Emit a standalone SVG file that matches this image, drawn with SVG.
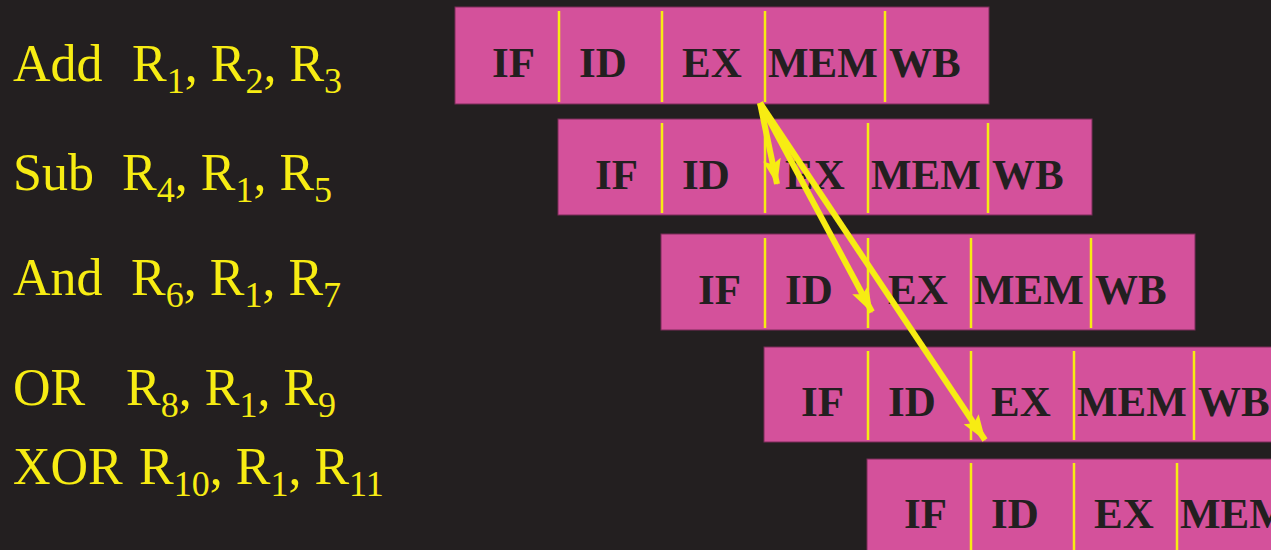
<svg xmlns="http://www.w3.org/2000/svg" width="1271" height="550" viewBox="0 0 1271 550">
<defs>
<style>
.bg{fill:#231F20}
.box{fill:#D4519B;stroke:#7a2c58;stroke-width:1}
.div{stroke:#F7EC13;stroke-width:2.5}
.st{font-family:"Liberation Serif","Times New Roman",serif;font-weight:bold;font-size:43px;fill:#231F20}
.ins{font-family:"Liberation Serif","Times New Roman",serif;font-size:52px;fill:#F7EC13}
.sub{font-size:36px}
.arr{stroke:#F7EC13;stroke-width:6;fill:none;marker-end:url(#ah)}
</style>
<marker id="ah" markerUnits="userSpaceOnUse" viewBox="0 0 26 18" refX="25" refY="9" markerWidth="26" markerHeight="18" orient="auto">
<path d="M0,0 L26,9 L0,18 L5,9 z" fill="#F7EC13"/>
</marker>
</defs>
<rect class="bg" x="0" y="0" width="1271" height="550"/>

<g id="instr1"><text class="ins" x="13" y="81">Add<tspan x="132">R</tspan><tspan class="sub" dy="12">1</tspan><tspan dy="-12">, R</tspan><tspan class="sub" dy="12">2</tspan><tspan dy="-12">, R</tspan><tspan class="sub" dy="12">3</tspan></text></g>
<g id="instr2"><text class="ins" x="13" y="190">Sub<tspan x="122">R</tspan><tspan class="sub" dy="12">4</tspan><tspan dy="-12">, R</tspan><tspan class="sub" dy="12">1</tspan><tspan dy="-12">, R</tspan><tspan class="sub" dy="12">5</tspan></text></g>
<g id="instr3"><text class="ins" x="13" y="295">And<tspan x="131">R</tspan><tspan class="sub" dy="12">6</tspan><tspan dy="-12">, R</tspan><tspan class="sub" dy="12">1</tspan><tspan dy="-12">, R</tspan><tspan class="sub" dy="12">7</tspan></text></g>
<g id="instr4"><text class="ins" x="13" y="405">OR<tspan x="126">R</tspan><tspan class="sub" dy="12">8</tspan><tspan dy="-12">, R</tspan><tspan class="sub" dy="12">1</tspan><tspan dy="-12">, R</tspan><tspan class="sub" dy="12">9</tspan></text></g>
<g id="instr5"><text class="ins" x="13" y="484">XOR<tspan x="139">R</tspan><tspan class="sub" dy="12">10</tspan><tspan dy="-12">, R</tspan><tspan class="sub" dy="12">1</tspan><tspan dy="-12">, R</tspan><tspan class="sub" dy="12">11</tspan></text></g>

<g id="row1">
<rect class="box" x="455" y="7" width="534" height="97"/>
<line class="div" x1="559" y1="11" x2="559" y2="102"/>
<line class="div" x1="662" y1="11" x2="662" y2="102"/>
<line class="div" x1="765" y1="11" x2="765" y2="102"/>
<line class="div" x1="885" y1="11" x2="885" y2="102"/>
<text class="st" x="492" y="77">IF</text><text class="st" x="579" y="77">ID</text><text class="st" x="682" y="77">EX</text><text class="st" x="768" y="77">MEM</text><text class="st" x="889" y="77">WB</text>
</g>
<g id="row2">
<rect class="box" x="558" y="119" width="534" height="96"/>
<line class="div" x1="662" y1="123" x2="662" y2="213"/>
<line class="div" x1="765" y1="123" x2="765" y2="213"/>
<line class="div" x1="868" y1="123" x2="868" y2="213"/>
<line class="div" x1="988" y1="123" x2="988" y2="213"/>
<text class="st" x="595" y="189">IF</text><text class="st" x="682" y="189">ID</text><text class="st" x="785" y="189">EX</text><text class="st" x="871" y="189">MEM</text><text class="st" x="992" y="189">WB</text>
</g>
<g id="row3">
<rect class="box" x="661" y="234" width="534" height="96"/>
<line class="div" x1="765" y1="238" x2="765" y2="328"/>
<line class="div" x1="868" y1="238" x2="868" y2="328"/>
<line class="div" x1="971" y1="238" x2="971" y2="328"/>
<line class="div" x1="1091" y1="238" x2="1091" y2="328"/>
<text class="st" x="698" y="304">IF</text><text class="st" x="785" y="304">ID</text><text class="st" x="888" y="304">EX</text><text class="st" x="974" y="304">MEM</text><text class="st" x="1095" y="304">WB</text>
</g>
<g id="row4">
<rect class="box" x="764" y="347" width="534" height="95"/>
<line class="div" x1="868" y1="351" x2="868" y2="440"/>
<line class="div" x1="971" y1="351" x2="971" y2="440"/>
<line class="div" x1="1074" y1="351" x2="1074" y2="440"/>
<line class="div" x1="1194" y1="351" x2="1194" y2="440"/>
<text class="st" x="801" y="416">IF</text><text class="st" x="888" y="416">ID</text><text class="st" x="991" y="416">EX</text><text class="st" x="1077" y="416">MEM</text><text class="st" x="1198" y="416">WB</text>
</g>
<g id="row5">
<rect class="box" x="867" y="459" width="534" height="100"/>
<line class="div" x1="971" y1="463" x2="971" y2="552"/>
<line class="div" x1="1074" y1="463" x2="1074" y2="552"/>
<line class="div" x1="1177" y1="463" x2="1177" y2="552"/>
<text class="st" x="904" y="528">IF</text><text class="st" x="991" y="528">ID</text><text class="st" x="1094" y="528">EX</text><text class="st" x="1180" y="528">MEM</text>
</g>

<g id="connectors">
<line class="arr" x1="760" y1="103" x2="777" y2="184"/>
<line class="arr" x1="760" y1="103" x2="872" y2="312"/>
<line class="arr" x1="760" y1="103" x2="985" y2="440"/>
</g>
</svg>
